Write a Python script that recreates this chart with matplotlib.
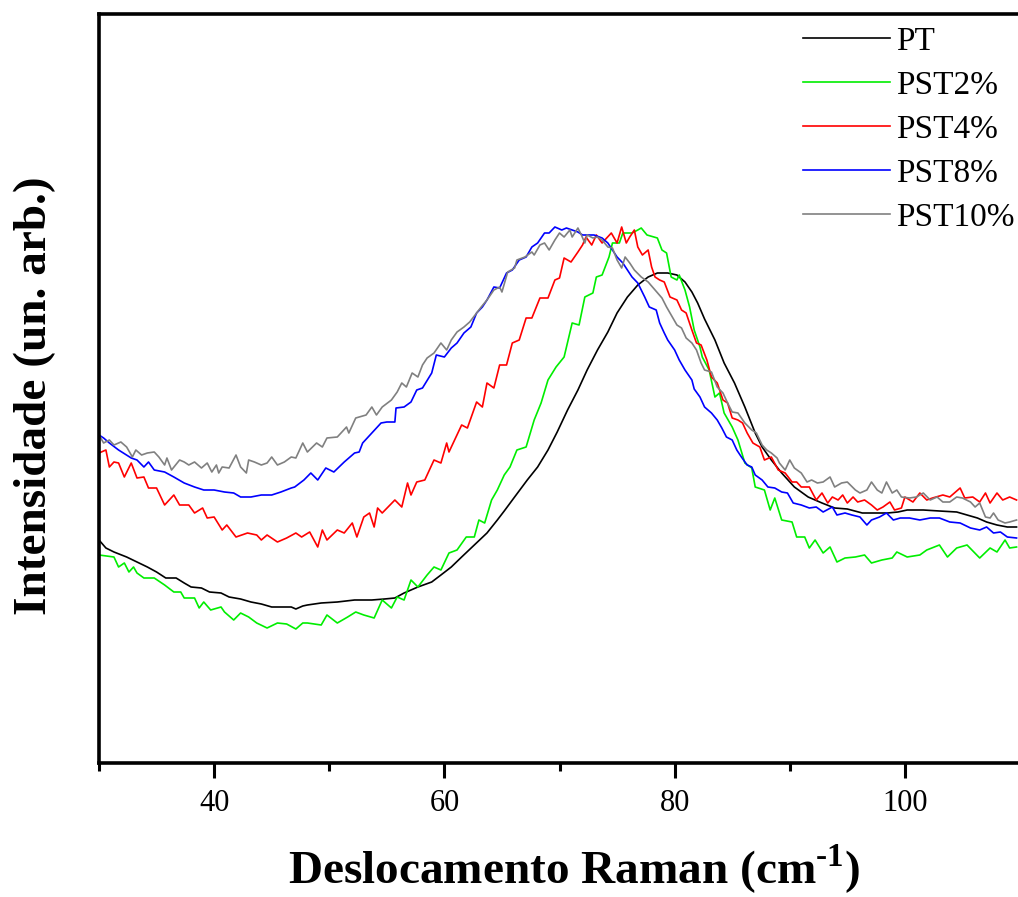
import matplotlib
matplotlib.use("Agg")
import matplotlib.pyplot as plt
from matplotlib.ticker import MultipleLocator

plt.rcParams["font.family"] = ["Liberation Serif", "DejaVu Serif"]
plt.rcParams["mathtext.fontset"] = "custom"
plt.rcParams["mathtext.rm"] = "Liberation Serif:bold"
plt.rcParams["mathtext.bf"] = "Liberation Serif:bold"

# Raman spectra, low-frequency region (shift in cm^-1, intensity in arb. units)
pt_x = [30.0, 30.6, 31.3, 32.4, 33.3, 34.2, 35.0, 35.8, 36.7, 37.4, 38.0, 38.9, 39.6, 40.6,
        41.3, 42.3, 43.2, 44.1, 45.0, 45.8, 46.7, 47.1, 47.7, 48.1, 49.3, 50.7, 52.2, 53.7,
        54.8, 55.7, 56.5, 57.7, 58.9, 59.7, 60.6, 61.5, 62.6, 63.7, 64.6, 65.2, 66.1, 67.2,
        68.1, 69.0, 69.8, 70.7, 71.6, 72.4, 73.3, 74.2, 75.0, 75.9, 76.8, 77.7, 78.5, 79.4,
        80.2, 80.9, 81.5, 82.0, 82.6, 83.5, 84.3, 85.2, 86.1, 87.0, 87.6, 88.4, 89.3, 90.4,
        91.6, 92.8, 93.9, 95.0, 96.3, 97.4, 98.5, 99.4, 100.2, 101.6, 103.0, 104.5, 105.4,
        106.3, 107.1, 108.0, 108.9, 109.7]
pt_y = [223, 215, 211, 206, 201, 196, 191, 185, 185, 180, 176, 175, 171, 170,
        166, 164, 161, 159, 156, 156, 156, 154, 157, 158, 160, 161, 163, 163,
        164, 165, 170, 176, 181, 188, 196, 206, 218, 230, 243, 252, 266, 283,
        296, 313, 331, 353, 373, 393, 413, 431, 450, 466, 478, 486, 490, 490,
        488, 481, 471, 460, 444, 423, 400, 380, 356, 330, 316, 303, 290, 276,
        266, 260, 255, 254, 250, 250, 250, 251, 253, 253, 252, 251, 248,
        245, 241, 238, 236, 236]

pst2_x = [30.0, 31.3, 31.7, 32.2, 32.6, 33.0, 33.3, 33.9, 34.8, 35.7, 36.5, 37.1, 37.4, 38.3,
          38.7, 39.1, 39.7, 40.6, 40.9, 41.7, 42.3, 43.0, 43.7, 44.6, 45.5, 46.3, 47.1, 47.7,
          48.1, 49.3, 49.8, 50.7, 51.6, 52.3, 53.0, 53.9, 54.6, 55.4, 55.9, 56.5, 57.1, 57.7,
          58.5, 59.1, 59.7, 60.4, 61.1, 61.9, 62.6, 63.0, 63.5, 64.1, 64.6, 65.2, 65.7, 66.3,
          67.1, 67.8, 68.4, 69.0, 69.7, 70.4, 71.1, 71.7, 72.2, 72.9, 73.2, 73.7, 74.3, 74.6,
          75.2, 75.5, 76.3, 76.8, 77.1, 77.6, 78.5, 78.9, 79.3, 79.7, 80.2, 80.4, 80.9, 81.3,
          81.7, 82.2, 82.4, 83.0, 83.5, 83.9, 84.3, 85.0, 85.5, 86.1, 86.7, 87.0, 87.8, 88.3,
          88.7, 89.3, 90.2, 90.6, 91.3, 91.7, 92.2, 92.9, 93.5, 94.1, 94.8, 95.7, 96.5, 97.1,
          98.0, 98.9, 99.3, 100.2, 101.3, 101.9, 103.0, 103.7, 104.5, 105.4, 106.5, 107.4,
          108.0, 108.7, 109.1, 109.7]
pst2_y = [208, 206, 196, 200, 191, 196, 190, 185, 185, 178, 171, 171, 165, 165,
          155, 161, 153, 156, 151, 143, 150, 146, 140, 135, 140, 139, 134, 140,
          140, 138, 148, 140, 146, 151, 148, 145, 163, 155, 166, 163, 183, 176,
          188, 196, 193, 210, 213, 226, 226, 243, 240, 263, 273, 288, 296, 313,
          316, 343, 360, 383, 396, 406, 440, 438, 466, 470, 486, 488, 506, 520,
          520, 530, 530, 533, 535, 528, 525, 513, 510, 486, 483, 488, 473, 456,
          433, 416, 406, 393, 366, 370, 350, 336, 323, 300, 295, 276, 273, 253,
          265, 243, 241, 226, 226, 215, 223, 210, 216, 201, 205, 206, 208, 200,
          203, 205, 211, 206, 208, 213, 218, 206, 215, 218, 205, 215,
          211, 223, 215, 216]

pst4_x = [30.0, 30.6, 30.9, 31.3, 31.7, 32.2, 32.8, 33.3, 33.9, 34.3, 35.0, 35.7, 36.5, 37.0,
          37.8, 38.3, 39.0, 39.4, 40.0, 40.7, 41.1, 41.9, 42.9, 43.7, 44.1, 44.6, 45.5, 46.3,
          47.1, 47.6, 48.3, 49.0, 49.4, 49.8, 50.7, 51.3, 52.0, 52.4, 53.0, 53.5, 53.9, 54.2,
          54.6, 55.7, 56.3, 56.8, 57.1, 57.6, 58.3, 59.1, 59.7, 60.2, 60.4, 61.5, 62.0, 62.8,
          63.3, 63.7, 64.3, 64.8, 65.4, 65.9, 66.5, 67.1, 67.6, 68.3, 69.0, 69.6, 70.0, 70.4,
          71.0, 71.6, 72.0, 72.3, 72.8, 73.2, 73.7, 74.5, 75.0, 75.4, 75.8, 76.1, 76.5, 76.8,
          77.2, 77.7, 78.0, 78.3, 78.7, 79.1, 79.6, 80.2, 80.6, 81.0, 81.5, 81.9, 82.3, 82.8,
          83.2, 83.7, 84.2, 84.6, 85.0, 85.5, 85.9, 86.3, 86.8, 87.4, 87.8, 88.4, 89.0, 89.6,
          90.2, 90.6, 91.0, 91.7, 92.3, 92.8, 93.3, 93.7, 94.2, 94.6, 95.0, 95.5, 95.9, 96.5,
          97.1, 97.6, 98.1, 98.7, 99.1, 99.7, 100.0, 100.7, 101.3, 101.9, 102.4, 103.3, 103.9,
          104.8, 105.2, 105.9, 106.5, 107.0, 107.4, 108.0, 108.5, 109.1, 109.7]
pst4_y = [310, 313, 296, 301, 300, 286, 300, 285, 286, 275, 275, 258, 268, 258,
          258, 250, 255, 245, 246, 233, 238, 226, 230, 228, 223, 228, 221, 225,
          230, 226, 231, 216, 233, 223, 233, 230, 240, 226, 246, 250, 236, 255,
          250, 263, 256, 280, 268, 281, 283, 303, 300, 320, 311, 338, 335, 361,
          356, 380, 375, 398, 398, 420, 423, 445, 445, 465, 465, 483, 485, 505,
          501, 511, 518, 526, 518, 528, 520, 530, 520, 536, 520, 526, 533, 516,
          508, 513, 496, 486, 483, 481, 466, 463, 453, 450, 433, 420, 418, 403,
          386, 380, 363, 360, 345, 343, 340, 330, 320, 316, 303, 306, 293, 290,
          281, 281, 276, 276, 263, 270, 260, 266, 263, 268, 260, 266, 261, 263,
          258, 253, 256, 261, 253, 255, 266, 261, 270, 263, 265, 268, 266,
          275, 265, 266, 261, 270, 260, 270, 263, 266, 263]

pst8_x = [30.0, 30.4, 30.9, 31.7, 32.8, 33.3, 33.9, 34.3, 34.8, 35.7, 36.5, 37.4, 38.3, 39.1,
          40.0, 40.9, 41.7, 42.3, 43.2, 44.1, 45.0, 45.8, 46.7, 47.0, 47.8, 48.4, 49.0, 49.7,
          50.4, 51.3, 52.2, 52.6, 52.9, 53.7, 54.5, 55.0, 55.7, 55.8, 56.5, 57.1, 57.6, 58.1,
          58.9, 59.3, 60.0, 60.6, 61.1, 61.7, 62.3, 62.8, 63.3, 63.7, 64.3, 64.8, 65.4, 65.9,
          66.5, 67.1, 67.6, 68.1, 68.7, 69.1, 69.6, 70.2, 70.6, 71.1, 71.6, 72.0, 72.6, 73.0,
          73.7, 74.2, 74.6, 75.0, 75.5, 75.9, 76.3, 76.8, 77.4, 77.8, 78.4, 78.7, 79.1, 79.4,
          80.0, 80.4, 80.9, 81.5, 81.7, 82.2, 82.6, 83.2, 83.7, 84.1, 84.5, 85.0, 85.4, 85.8,
          86.3, 86.7, 87.0, 87.6, 88.1, 88.7, 89.3, 89.8, 90.3, 91.0, 91.7, 92.3, 92.9, 93.7,
          94.1, 94.8, 95.4, 96.1, 96.7, 97.1, 97.8, 98.4, 99.0, 99.6, 100.4, 101.3, 102.2,
          103.0, 103.9, 104.8, 105.7, 106.5, 107.1, 107.7, 108.3, 108.9, 109.7]
pst8_y = [328, 325, 320, 313, 305, 303, 296, 301, 293, 291, 286, 280, 276, 273,
          273, 271, 270, 266, 266, 268, 268, 271, 275, 276, 283, 290, 283, 295,
          291, 301, 310, 311, 320, 330, 340, 341, 341, 355, 356, 361, 373, 375,
          390, 408, 406, 415, 420, 430, 436, 450, 456, 463, 476, 475, 490, 493,
          503, 506, 516, 520, 530, 530, 536, 533, 535, 533, 531, 528, 528, 528,
          525, 520, 513, 506, 500, 493, 486, 480, 466, 456, 453, 440, 430, 423,
          413, 403, 393, 383, 374, 366, 356, 350, 343, 335, 326, 323, 313, 306,
          298, 296, 288, 283, 276, 275, 271, 270, 260, 258, 255, 256, 251, 256,
          248, 250, 248, 246, 238, 243, 246, 250, 243, 245, 245, 243, 245,
          245, 241, 240, 235, 233, 236, 230, 231, 226, 225]

pst10_x = [30.0, 30.4, 30.9, 31.3, 31.9, 32.4, 32.9, 33.2, 33.7, 34.2, 34.8, 35.2, 35.7, 35.9,
           36.3, 37.0, 37.4, 37.8, 38.3, 38.9, 39.4, 39.8, 40.2, 40.4, 40.7, 41.3, 41.9, 42.3,
           42.8, 43.0, 43.5, 44.1, 44.6, 45.0, 45.5, 46.1, 46.7, 47.1, 47.7, 48.1, 48.9, 49.4,
           49.8, 50.7, 51.5, 51.7, 52.3, 53.2, 53.7, 54.1, 54.6, 55.4, 55.9, 56.3, 56.7, 57.2,
           57.7, 58.1, 58.5, 59.1, 59.7, 60.2, 60.6, 61.1, 61.7, 62.2, 62.8, 63.2, 63.7, 64.3,
           64.8, 65.0, 65.5, 66.1, 66.3, 67.0, 67.6, 67.8, 68.3, 68.7, 69.1, 69.6, 70.0, 70.4,
           70.9, 71.1, 71.6, 71.9, 72.2, 72.4, 72.9, 73.3, 73.7, 74.2, 74.6, 75.0, 75.4, 75.7,
           76.1, 76.5, 77.1, 77.7, 78.3, 78.9, 79.3, 79.7, 80.2, 80.6, 81.0, 81.5, 81.9, 82.3,
           82.6, 83.2, 83.7, 84.2, 84.6, 85.0, 85.5, 86.1, 86.7, 87.1, 87.6, 88.0, 88.4, 88.9,
           89.1, 89.6, 90.0, 90.4, 91.0, 91.5, 91.9, 92.4, 92.9, 93.5, 93.9, 94.5, 95.0, 95.7,
           96.1, 96.7, 97.1, 97.6, 98.0, 98.4, 98.9, 99.3, 99.7, 100.4, 101.0, 101.6, 102.2,
           102.8, 103.3, 103.9, 104.5, 105.0, 105.7, 106.1, 106.5, 107.0, 107.4, 107.7, 108.1,
           108.7, 109.1, 109.7]
pst10_y = [328, 320, 323, 318, 321, 316, 306, 313, 308, 310, 311, 306, 298, 305,
           293, 303, 301, 298, 301, 295, 300, 291, 298, 290, 296, 295, 308, 296,
           290, 303, 301, 298, 300, 306, 298, 301, 306, 305, 320, 311, 320, 316,
           325, 326, 336, 330, 345, 348, 356, 348, 356, 363, 371, 380, 376, 390,
           386, 398, 405, 410, 420, 413, 423, 431, 436, 441, 450, 456, 463, 473,
           476, 471, 491, 495, 503, 506, 511, 508, 518, 520, 513, 523, 530, 526,
           533, 526, 535, 528, 520, 528, 525, 526, 523, 516, 515, 503, 495, 506,
           500, 493, 486, 481, 473, 465, 456, 448, 438, 435, 425, 420, 413, 400,
           393, 391, 376, 370, 360, 351, 350, 340, 333, 330, 318, 313, 310, 305,
           300, 293, 303, 295, 290, 281, 283, 280, 281, 286, 276, 280, 281, 273,
           270, 273, 281, 273, 270, 281, 270, 273, 266, 265, 266, 270, 263,
           266, 261, 261, 266, 265, 261, 256, 260, 246, 245, 250, 243,
           240, 241, 243]

series = [
    ("PT", pt_x, pt_y, "#000000"),
    ("PST2%", pst2_x, pst2_y, "#00ee00"),
    ("PST4%", pst4_x, pst4_y, "#ff0000"),
    ("PST8%", pst8_x, pst8_y, "#0000ff"),
    ("PST10%", pst10_x, pst10_y, "#808080"),
]

W, H = 1018, 897
fig = plt.figure(figsize=(W / 100, H / 100), dpi=100)
ax = fig.add_axes([99 / W, 1 - 763 / H, 921 / W, 749 / H])

for name, xs, ys, col in series:
    ax.plot(xs, ys, color=col, lw=1.2, label=name)

ax.set_xlim(30, 110)
ax.set_ylim(0, 749)

for side in ("left", "bottom", "top", "right"):
    ax.spines[side].set_linewidth(2.6)

ax.xaxis.set_major_locator(MultipleLocator(20))
ax.xaxis.set_minor_locator(MultipleLocator(10))
ax.tick_params(axis="x", which="major", direction="out", length=11, width=2.2,
               labelsize=22, pad=8, top=False)
ax.tick_params(axis="x", which="minor", direction="out", length=6, width=2.2, top=False)
ax.tick_params(axis="y", which="both", left=False, right=False, labelleft=False)

ax.set_xlabel(r"Deslocamento Raman (cm$^{\text{-}1}$)", fontsize=34, fontweight="bold")
ax.xaxis.set_label_coords(0.516, -0.106)
fig.text(35 / W, 1 - 396 / H, "Intensidade (un. arb.)", rotation=90, fontsize=34,
         fontweight="bold", ha="center", va="center")

leg = ax.legend(loc="upper left", bbox_to_anchor=(803 / W, 1 - 26 / H),
                bbox_transform=fig.transFigure, frameon=False, fontsize=24,
                handlelength=2.6, handletextpad=0.2, labelspacing=0.41,
                borderpad=0, borderaxespad=0)

fig.savefig("out.png", dpi=100)
